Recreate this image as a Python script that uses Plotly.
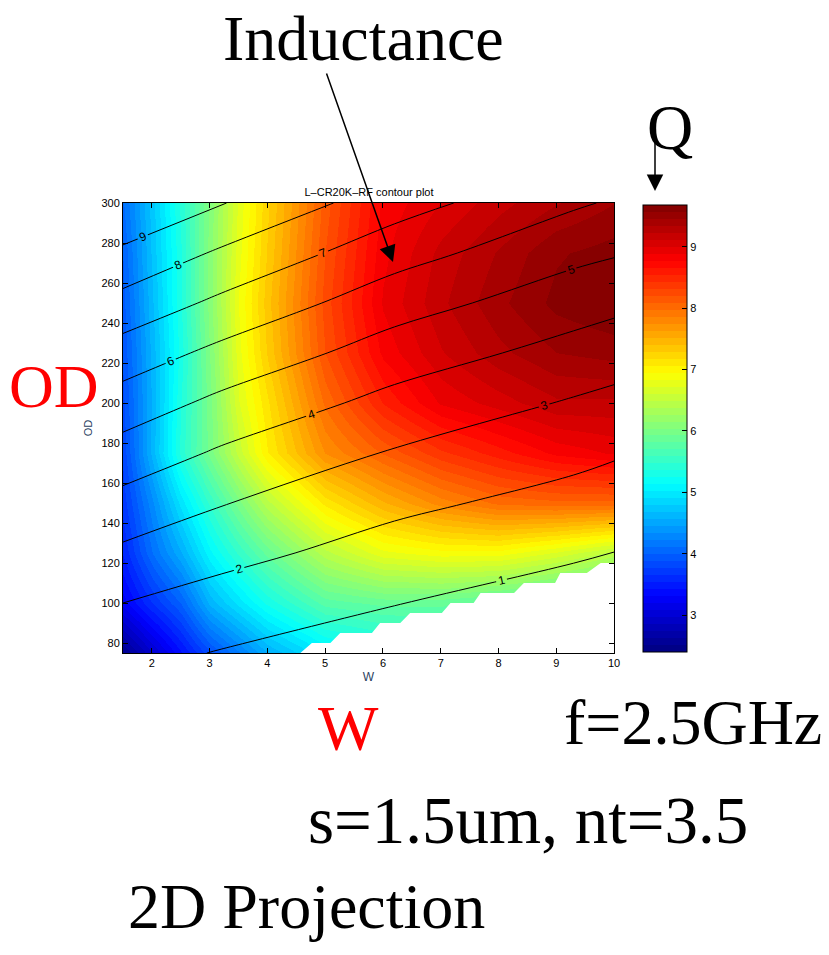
import numpy as np
import plotly.graph_objects as go

# ---- Quality factor Q over the (W, OD) design space ----
w_q = [1.5, 2.0, 2.5, 3.0, 3.5, 4.0, 5.0, 6.0, 7.0, 8.0, 9.0, 10.0]
od_q = [75, 100, 125, 150, 175, 200, 225, 250, 275, 300]
q_od75 = [2.50, 2.95, 3.40, 3.85, 4.20, 4.55, 5.00, 5.20, 5.30, 5.30, 5.20, 5.00]
q_od100 = [3.25, 3.65, 4.00, 4.60, 4.95, 5.27, 5.75, 5.85, 5.85, 5.75, 5.60, 5.45]
q_od125 = [3.55, 4.10, 4.55, 5.10, 5.50, 5.85, 6.45, 6.80, 6.90, 6.90, 6.70, 6.45]
q_od150 = [3.70, 4.30, 4.95, 5.50, 6.00, 6.45, 7.10, 7.50, 7.80, 8.00, 8.05, 8.05]
q_od175 = [3.80, 4.60, 5.40, 5.98, 6.55, 7.05, 7.75, 8.10, 8.40, 8.60, 8.80, 8.90]
q_od200 = [3.85, 4.58, 5.36, 6.00, 6.72, 7.15, 8.00, 8.55, 8.90, 9.05, 9.20, 9.20]
q_od225 = [3.90, 4.60, 5.30, 6.05, 6.80, 7.30, 8.20, 8.80, 9.10, 9.30, 9.45, 9.50]
q_od250 = [3.95, 4.65, 5.35, 6.10, 6.85, 7.35, 8.25, 8.90, 9.20, 9.42, 9.60, 9.68]
q_od275 = [4.00, 4.70, 5.35, 6.10, 6.80, 7.30, 8.20, 8.85, 9.15, 9.35, 9.55, 9.62]
q_od300 = [4.09, 4.73, 5.39, 6.07, 6.76, 7.26, 8.14, 8.80, 9.00, 9.18, 9.33, 9.45]
q_grid = [q_od75, q_od100, q_od125, q_od150, q_od175,
          q_od200, q_od225, q_od250, q_od275, q_od300]
q_min, q_max = 2.40, 9.68
q_ticks = [3, 4, 5, 6, 7, 8, 9]

# ---- Inductance L (nH) over the same space ----
w_l = [1.5, 3.2, 6.2, 9.3, 10.0]
od_l = [75, 100, 125, 150, 175, 200, 225, 250, 275, 300]
l_od75 = [1.29, 0.95, 0.47, 0.05, -0.05]
l_od100 = [2.00, 1.60, 1.03, 0.57, 0.47]
l_od125 = [2.81, 2.29, 1.61, 1.11, 0.99]
l_od150 = [3.68, 3.05, 2.22, 1.67, 1.53]
l_od175 = [4.60, 3.87, 2.92, 2.26, 2.09]
l_od200 = [5.56, 4.76, 3.69, 2.91, 2.74]
l_od225 = [6.57, 5.74, 4.53, 3.65, 3.45]
l_od250 = [7.67, 6.79, 5.43, 4.44, 4.24]
l_od275 = [8.81, 7.86, 6.40, 5.26, 5.08]
l_od300 = [9.98, 9.05, 7.43, 6.13, 5.90]
l_grid = [l_od75, l_od100, l_od125, l_od150, l_od175,
          l_od200, l_od225, l_od250, l_od275, l_od300]
l_levels = (1, 9, 1)

# ---- Lower edge of the region with valid designs (below it: no data) ----
no_data_w = [4.57, 4.77, 5.09, 5.26, 5.81, 5.95, 6.30, 6.47, 7.02, 7.17,
             7.57, 7.69, 8.27, 8.44, 8.98, 9.07, 9.53, 9.77, 10.0]
no_data_od = [75, 80, 80, 85, 85, 90, 90, 95, 95, 100,
              100, 105, 105, 110, 110, 115, 115, 120, 120]

w_ticks = [2, 3, 4, 5, 6, 7, 8, 9, 10]
od_ticks = [80, 100, 120, 140, 160, 180, 200, 220, 240, 260, 280, 300]


def jet(t):
    r = min(max(1.5 - abs(4 * t - 3), 0), 1)
    g = min(max(1.5 - abs(4 * t - 2), 0), 1)
    b = min(max(1.5 - abs(4 * t - 1), 0), 1)
    return f"rgb({int(round(r * 255))},{int(round(g * 255))},{int(round(b * 255))})"


# 64-step jet colormap (banded, like contourf)
n_steps = 64
jet_steps = []
for i in range(n_steps):
    c = jet((i + 0.5) / n_steps)
    jet_steps.append([i / n_steps, c])
    jet_steps.append([(i + 1) / n_steps, c])

# plot-area geometry in pixels
W_PX, H_PX = 829, 955
L_M, R_M, T_M, B_M = 123, 215, 203, 302
PA_W = W_PX - L_M - R_M
PA_H = H_PX - T_M - B_M


def px(x):
    return (x - L_M) / PA_W


def py(y):
    return (T_M + PA_H - y) / PA_H


fig = go.Figure()

fig.add_trace(go.Heatmap(
    x=w_q, y=od_q, z=np.array(q_grid), zsmooth="best",
    colorscale=jet_steps, zmin=q_min, zmax=q_max,
    colorbar=dict(
        x=px(643), xanchor="left", y=py(205), yanchor="top",
        xpad=0, ypad=0,
        thickness=44, thicknessmode="pixels",
        len=447, lenmode="pixels",
        outlinecolor="black", outlinewidth=1,
        tickvals=q_ticks, ticks="inside", ticklen=5, tickcolor="black",
        tickfont=dict(family="Liberation Sans", size=11, color="black"),
    ),
    hoverinfo="skip",
))

fig.add_trace(go.Scatter(
    x=no_data_w, y=no_data_od, mode="lines", fill="tozeroy",
    fillcolor="white", line=dict(color="white", width=0),
    hoverinfo="skip", showlegend=False,
))

fig.add_trace(go.Contour(
    x=w_l, y=od_l, z=np.array(l_grid),
    contours=dict(start=l_levels[0], end=l_levels[1], size=l_levels[2],
                  coloring="lines", showlabels=True,
                  labelfont=dict(family="Liberation Sans", size=12, color="black")),
    colorscale=[[0, "black"], [1, "black"]],
    line=dict(width=1), showscale=False, hoverinfo="skip",
))

axis_font = dict(family="Liberation Sans", size=11, color="black")
fig.update_xaxes(
    range=[1.5, 10], tickvals=w_ticks, ticks="inside", ticklen=5,
    tickcolor="black", showline=True, linecolor="black", linewidth=1,
    mirror="ticks", showgrid=False, zeroline=False, tickfont=axis_font,
    title=dict(text="W", font=dict(family="Liberation Sans", size=12), standoff=4),
)
fig.update_yaxes(
    range=[75, 300], tickvals=od_ticks, ticks="inside", ticklen=5,
    tickcolor="black", showline=True, linecolor="black", linewidth=1,
    mirror="ticks", showgrid=False, zeroline=False, tickfont=axis_font,
    title=dict(text="OD", font=dict(family="Liberation Sans", size=11), standoff=6),
)

serif = "Liberation Serif"
big = 64
annotations = [
    dict(text="Inductance", x=px(363), y=py(38), font=dict(family=serif, size=big, color="black")),
    dict(text="Q", x=px(670), y=py(128), font=dict(family=serif, size=big, color="black")),
    dict(text="OD", x=px(54), y=py(386), font=dict(family=serif, size=62, color="red")),
    dict(text="W", x=px(348), y=py(728), font=dict(family=serif, size=big, color="red")),
    dict(text="f=2.5GHz", x=px(693), y=py(722), font=dict(family=serif, size=big, color="black")),
    dict(text="s=1.5um, nt=3.5", x=px(528), y=py(820), font=dict(family=serif, size=67, color="black")),
    dict(text="2D Projection", x=px(306), y=py(907), font=dict(family=serif, size=big, color="black")),
]
for a in annotations:
    a.update(xref="paper", yref="paper", xanchor="center", yanchor="middle", showarrow=False)

arrows = [
    dict(x=px(393), y=py(262), ax=-67, ay=-190),
    dict(x=px(655), y=py(191), ax=0, ay=-60),
]
for a in arrows:
    a.update(xref="paper", yref="paper", text="", showarrow=True,
             arrowhead=2, arrowsize=2.2, arrowwidth=1.5, arrowcolor="black")

fig.update_layout(
    width=W_PX, height=H_PX,
    margin=dict(l=L_M, r=R_M, t=T_M, b=B_M),
    paper_bgcolor="white", plot_bgcolor="white",
    title=dict(text="L\u2013CR20K\u2013RF contour plot", x=px(369), xref="paper",
               xanchor="center", y=1 - 192 / H_PX, yanchor="middle",
               font=dict(family="Liberation Sans", size=11, color="black")),
    annotations=annotations + arrows,
    showlegend=False,
)

fig.write_html("out.html")
